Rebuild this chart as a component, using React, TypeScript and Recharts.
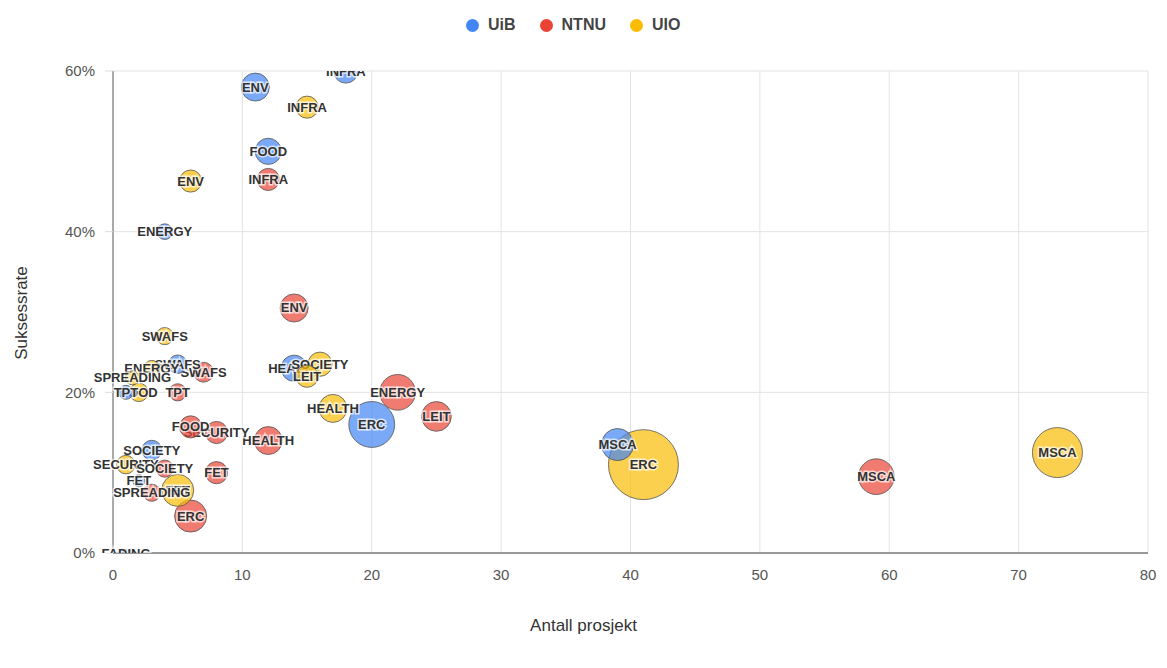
import { ScatterChart, Scatter, XAxis, YAxis, ZAxis, CartesianGrid, Cell } from "recharts";

type Bubble = { id: string; x: number; y: number; z: number };

// x = antall prosjekt, y = suksessrate (%), z = bubble size value
const UIB: Bubble[] = [
  { id: "INFRA", x: 18, y: 60, z: 12 },
  { id: "ENV", x: 11, y: 58, z: 16 },
  { id: "FOOD", x: 12, y: 50, z: 14 },
  { id: "ENERGY", x: 4, y: 40, z: 5 },
  { id: "SWAFS", x: 5, y: 23.5, z: 7 },
  { id: "HEALTH", x: 14, y: 23, z: 14 },
  { id: "ERC", x: 20, y: 16, z: 43 },
  { id: "MSCA", x: 39, y: 13.5, z: 21 },
  { id: "SOCIETY", x: 3, y: 12.8, z: 8 },
  { id: "FET", x: 2, y: 9, z: 3 },
  { id: "TPT", x: 1, y: 20, z: 4 },
  { id: "FADING", x: 1, y: 0, z: 1 },
];

const NTNU: Bubble[] = [
  { id: "INFRA", x: 12, y: 46.5, z: 10 },
  { id: "ENV", x: 14, y: 30.5, z: 16 },
  { id: "ENERGY", x: 22, y: 20, z: 26 },
  { id: "LEIT", x: 25, y: 17, z: 18 },
  { id: "HEALTH", x: 12, y: 14, z: 16 },
  { id: "SECURITY", x: 8, y: 15, z: 10 },
  { id: "FOOD", x: 6, y: 15.7, z: 10 },
  { id: "FET", x: 8, y: 10, z: 10 },
  { id: "ERC", x: 6, y: 4.6, z: 21 },
  { id: "SWAFS", x: 7, y: 22.5, z: 8 },
  { id: "TPT", x: 5, y: 20, z: 6 },
  { id: "MSCA", x: 59, y: 9.5, z: 26 },
  { id: "SPREADING", x: 3, y: 7.5, z: 6 },
  { id: "SOCIETY", x: 4, y: 10.5, z: 6 },
];

const UIO: Bubble[] = [
  { id: "INFRA", x: 15, y: 55.5, z: 10 },
  { id: "ENV", x: 6, y: 46.3, z: 10 },
  { id: "SWAFS", x: 4, y: 27, z: 6 },
  { id: "ENERGY", x: 3, y: 23, z: 5 },
  { id: "SPREADING", x: 1.5, y: 21.8, z: 4 },
  { id: "FOOD", x: 2, y: 20, z: 7 },
  { id: "SOCIETY", x: 16, y: 23.5, z: 12 },
  { id: "LEIT", x: 15, y: 22, z: 10 },
  { id: "HEALTH", x: 17, y: 18, z: 16 },
  { id: "ERC", x: 41, y: 11, z: 100 },
  { id: "MSCA", x: 73, y: 12.5, z: 51 },
  { id: "FET", x: 5, y: 7.8, z: 21 },
  { id: "SECURITY", x: 1, y: 11, z: 7 },
];

const SERIES = [
  { name: "UiB", color: "#4285F4", data: UIB },
  { name: "NTNU", color: "#EA4335", data: NTNU },
  { name: "UIO", color: "#FBBC04", data: UIO },
];

const X_TICKS = [0, 10, 20, 30, 40, 50, 60, 70, 80];
const Y_TICKS = [0, 20, 40, 60];

const FONT = "'Liberation Sans', Arial, sans-serif";

// google sorts bubbles by size, biggest drawn first
const ALL = SERIES.flatMap((s) => s.data.map((d) => ({ ...d, color: s.color }))).sort((a, b) => b.z - a.z);

function BubbleShape(props: any) {
  const { cx, cy, payload } = props;
  const r = props.width ? props.width / 2 : Math.sqrt((props.size ?? 64) / Math.PI);
  return (
    <g>
      <circle cx={cx} cy={cy} r={r} fill={payload.color} fillOpacity={0.7} stroke="#555" strokeOpacity={0.8} strokeWidth={1} />
      <text
        x={cx}
        y={cy}
        dy={4.5}
        textAnchor="middle"
        fontFamily={FONT}
        fontSize={13}
        fontWeight="bold"
        fill="#333"
        stroke="#fff"
        strokeWidth={3}
        strokeOpacity={0.7}
        paintOrder="stroke"
      >
        {payload.id}
      </text>
    </g>
  );
}

export default function App() {
  return (
    <div style={{ position: "absolute", left: 0, top: 0, width: 1167, height: 668, background: "#fff", fontFamily: FONT }}>
      <div style={{ position: "absolute", top: 16, left: 466, display: "flex", gap: 24, fontSize: 16, fontWeight: "bold", color: "#444" }}>
        {SERIES.map((s) => (
          <div key={s.name} style={{ display: "flex", alignItems: "center", gap: 9 }}>
            <span style={{ width: 13, height: 13, borderRadius: "50%", background: s.color, display: "inline-block" }} />
            <span>{s.name}</span>
          </div>
        ))}
      </div>
      <ScatterChart width={1167} height={668} margin={{ top: 71, right: 19, bottom: 85, left: 0 }}>
        <CartesianGrid stroke="#e3e3e3" />
        <XAxis
          type="number"
          dataKey="x"
          domain={[0, 80]}
          ticks={X_TICKS}
          height={30}
          tick={{ fontSize: 15, fill: "#555", fontFamily: FONT }}
          tickLine={false}
          axisLine={{ stroke: "#999", strokeWidth: 2 }}
          tickMargin={10}
        />
        <YAxis
          type="number"
          dataKey="y"
          domain={[0, 60]}
          ticks={Y_TICKS}
          width={113}
          tickFormatter={(v) => `${v}%`}
          tick={{ fontSize: 15, fill: "#555", fontFamily: FONT }}
          tickLine={{ stroke: "#ddd" }}
          tickSize={8}
          tickMargin={10}
          axisLine={{ stroke: "#aaa", strokeWidth: 2 }}
          allowDataOverflow
        />
        <ZAxis type="number" dataKey="z" domain={[0, 100]} range={[0, Math.PI * 35 * 35]} />
        <Scatter data={ALL} shape={BubbleShape} isAnimationActive={false}>
          {ALL.map((d, i) => (
            <Cell key={`b-${i}`} fill={d.color} />
          ))}
        </Scatter>
      </ScatterChart>
      <div style={{ position: "absolute", left: 22, top: 313, transform: "translate(-50%, -50%) rotate(-90deg)", fontSize: 17, color: "#333", whiteSpace: "nowrap" }}>
        Suksessrate
      </div>
      <div style={{ position: "absolute", left: 0, width: 1167, top: 616, textAlign: "center", fontSize: 17, color: "#333" }}>
        Antall prosjekt
      </div>
    </div>
  );
}
